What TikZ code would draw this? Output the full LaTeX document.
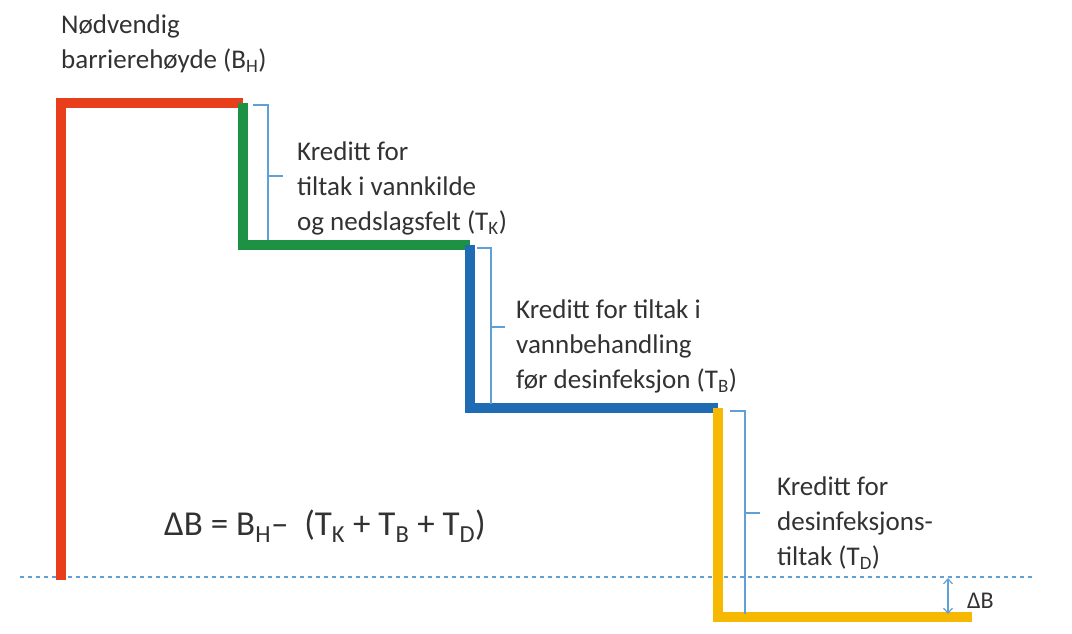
\documentclass[tikz,border=0pt]{standalone}
\usepackage{fontspec}
\setmainfont{Carlito}
\usetikzlibrary{arrows.meta}
\definecolor{cred}{RGB}{232,62,28}
\definecolor{cgreen}{RGB}{30,146,68}
\definecolor{cblue}{RGB}{31,108,180}
\definecolor{cyellow}{RGB}{246,184,0}
\definecolor{cbrack}{RGB}{96,160,214}
\definecolor{ctext}{RGB}{50,50,50}
\tikzset{
  stair/.style={line width=10pt, line join=miter},
  brack/.style={cbrack, line width=1.4pt},
  lbl/.style={inner sep=0pt, anchor=north west, align=left, text=ctext,
    font=\fontsize{27}{35}\selectfont},
}
\begin{document}
\begin{tikzpicture}[x=1pt,y=-1pt]
\useasboundingbox (0,0) rectangle (1072,633);
% staircase corners
\coordinate (r0) at (61,580);
\coordinate (r1) at (61,103);
\coordinate (g0) at (243,103);
\coordinate (g1) at (243,245);
\coordinate (b0) at (470,245);
\coordinate (b1) at (470,408);
\coordinate (y0) at (718,408);
\coordinate (y1) at (718,617);
\coordinate (yend) at (972,617);
% dashed reference line
\coordinate (d0) at (20,577);
\coordinate (d1) at (1032,577);
\draw[cbrack, line width=1.2pt, dash pattern=on 4pt off 4pt] (d0) -- (d1);
% steps
\draw[stair, cred] (r0) -- (r1) -- (g0);
\draw[stair, cgreen] (g0) -- (g1) -- (b0);
\draw[stair, cblue] (b0) -- (b1) -- (y0);
\draw[stair, cyellow] (y0) -- (y1) -- (yend);
% brackets
\draw[brack] (253,105) -- (268,105) -- (268,240);
\draw[brack] (268,176) -- (283,176);
\draw[brack] (477,248) -- (491,248) -- (491,404);
\draw[brack] (491,327) -- (505,327);
\draw[brack] (730,411) -- (745,411) -- (745,614);
\draw[brack] (745,513) -- (760,513);
% delta B arrow
\coordinate (a0) at (948,578);
\coordinate (a1) at (948,614);
\draw[cbrack, line width=1.2pt, {Straight Barb[length=5pt,width=9pt]}-{Straight Barb[length=5pt,width=9pt]}] (a0) -- (a1);
% texts
\node[lbl] (bh) at (61,15) {Nødvendig\\barrierehøyde (B\textsubscript{H})};
\node[lbl] (tk) at (297,142) {Kreditt for\\tiltak i vannkilde\\og nedslagsfelt (T\textsubscript{K})};
\node[lbl] (tb) at (516,300) {Kreditt for tiltak i\\vannbehandling\\før desinfeksjon (T\textsubscript{B})};
\node[lbl] (td) at (777,477) {Kreditt for\\desinfeksjons-\\tiltak (T\textsubscript{D})};
\node[inner sep=0pt, anchor=base west, text=ctext, font=\fontsize{35}{40}\selectfont] (eq) at (164,535)
  {ΔB = B\textsubscript{H}–\ \ (T\textsubscript{K} + T\textsubscript{B} + T\textsubscript{D})};
\node[inner sep=0pt, anchor=base west, text=ctext, font=\fontsize{24}{28}\selectfont] (db) at (967,608) {ΔB};
\end{tikzpicture}
\end{document}
